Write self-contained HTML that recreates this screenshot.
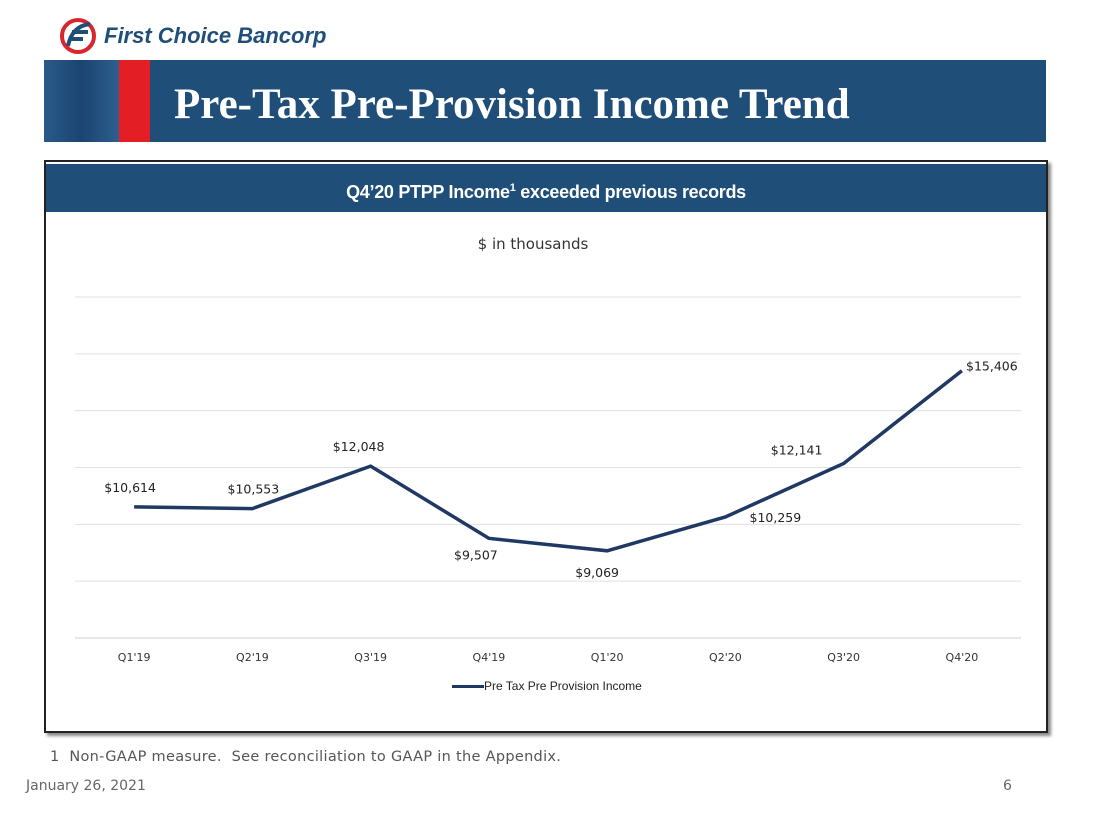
<!DOCTYPE html>
<html><head><meta charset="utf-8"><style>
body{margin:0;width:1100px;height:824px;background:#fff;position:relative;font-family:"Liberation Sans",sans-serif;overflow:hidden}
.abs{position:absolute}
</style></head><body>
<div class="abs" style="left:56px;top:16px;width:270px;height:40px">
<svg width="270" height="40"><circle cx="22" cy="20" r="16" fill="none" stroke="#d9262c" stroke-width="4"/><path d="M12 30 Q16 10 34 8" stroke="#1f4e79" stroke-width="4" fill="none"/><path d="M16 16 h16 M15 23 h12" stroke="#1f4e79" stroke-width="4"/>
<text x="48" y="27" font-family="Liberation Sans" font-weight="bold" font-style="italic" font-size="22" fill="#1f4e79">First Choice Bancorp</text></svg></div>
<div class="abs" style="left:44px;top:60px;width:1002px;height:82px;background:#1f4e79">
<div class="abs" style="left:0;top:0;width:75px;height:82px;background:linear-gradient(90deg,#2a5a8a,#1b4470,#2d5f90)"></div>
<div class="abs" style="left:75px;top:0;width:31px;height:82px;background:#e31e25"></div>
<div class="abs" style="left:130px;top:20px;color:#fff;font-family:'Liberation Serif',serif;font-weight:bold;font-size:43px">Pre-Tax Pre-Provision Income Trend</div></div>
<div class="abs" style="left:44px;top:160px;width:1000px;height:569px;border:2px solid #222;box-shadow:3px 3px 3px #888;background:#fff">
<div class="abs" style="left:0;top:2px;width:1000px;height:48px;background:#1f4e79;color:#fff;font-weight:bold;font-size:18px;text-align:center;line-height:48px;letter-spacing:-0.3px">Q4’20 PTPP Income<sup style="font-size:11px">1</sup> exceeded previous records</div>
</div>
<div class="abs" style="left:0;width:1066px;top:235px;text-align:center;font-size:15px;color:#333;font-family:'DejaVu Sans',sans-serif">$ in thousands</div>
<svg class="abs" style="left:0;top:0" width="1100" height="824" id="chart"></svg>
<div class="abs" style="left:452px;top:679px;font-size:12px;color:#222"><span style="display:inline-block;width:32px;height:3px;background:#203864;vertical-align:middle"></span>Pre Tax Pre Provision Income</div>
<div class="abs" style="left:50px;top:749px;font-size:14.5px;letter-spacing:0.3px;color:#555;font-family:'DejaVu Sans',sans-serif">1&nbsp; Non-GAAP measure.&nbsp; See reconciliation to GAAP in the Appendix.</div>
<div class="abs" style="left:26px;top:778px;font-size:14px;color:#666;font-family:'DejaVu Sans',sans-serif">January 26, 2021</div>
<div class="abs" style="left:1003px;top:778px;font-size:14px;color:#666;font-family:'DejaVu Sans',sans-serif">6</div>
<script>
const categories=["Q1'19","Q2'19","Q3'19","Q4'19","Q1'20","Q2'20","Q3'20","Q4'20"];
const values=[10614,10553,12048,9507,9069,10259,12141,15406];
const labelOffsets=[[-4,-19],[1,-19],[-12,-19],[-13,17],[-10,22],[50,1],[-47,-13],[30,-4]];
const yTicks=[6000,8000,10000,12000,14000,16000,18000];
const svg=document.getElementById('chart');const NS='http://www.w3.org/2000/svg';
const x0=75,x1=1021,yMin=6000,yMax=18000,yb=638,yt=297;
const step=(x1-x0)/categories.length;
const X=i=>x0+step*(i+0.5);
const Y=v=>yb-(v-yMin)/(yMax-yMin)*(yb-yt);
function mk(t,a){const e=document.createElementNS(NS,t);for(const k in a)e.setAttribute(k,a[k]);svg.appendChild(e);return e;}
yTicks.forEach(v=>{const l=mk('line',{x1:x0,x2:x1,y1:Y(v),y2:Y(v),stroke:v===yMin?'#ccc':'#e0e0e0','stroke-width':1});

});
categories.forEach((c,i)=>{const t=mk('text',{x:X(i),y:661,'text-anchor':'middle','font-size':11,fill:'#333','font-family':'DejaVu Sans'});t.textContent=c;

});
const p=mk('polyline',{points:values.map((v,i)=>X(i)+','+Y(v)).join(' '),fill:'none',stroke:'#203864','stroke-width':3.5});


values.forEach((v,i)=>{const o=labelOffsets[i];const t=mk('text',{x:X(i)+o[0],y:Y(v)+o[1]+4,'text-anchor':'middle','font-size':12.5,fill:'#222','font-family':'DejaVu Sans'});
t.textContent='$'+v.toLocaleString('en-US');

});
</script>
</body></html>
